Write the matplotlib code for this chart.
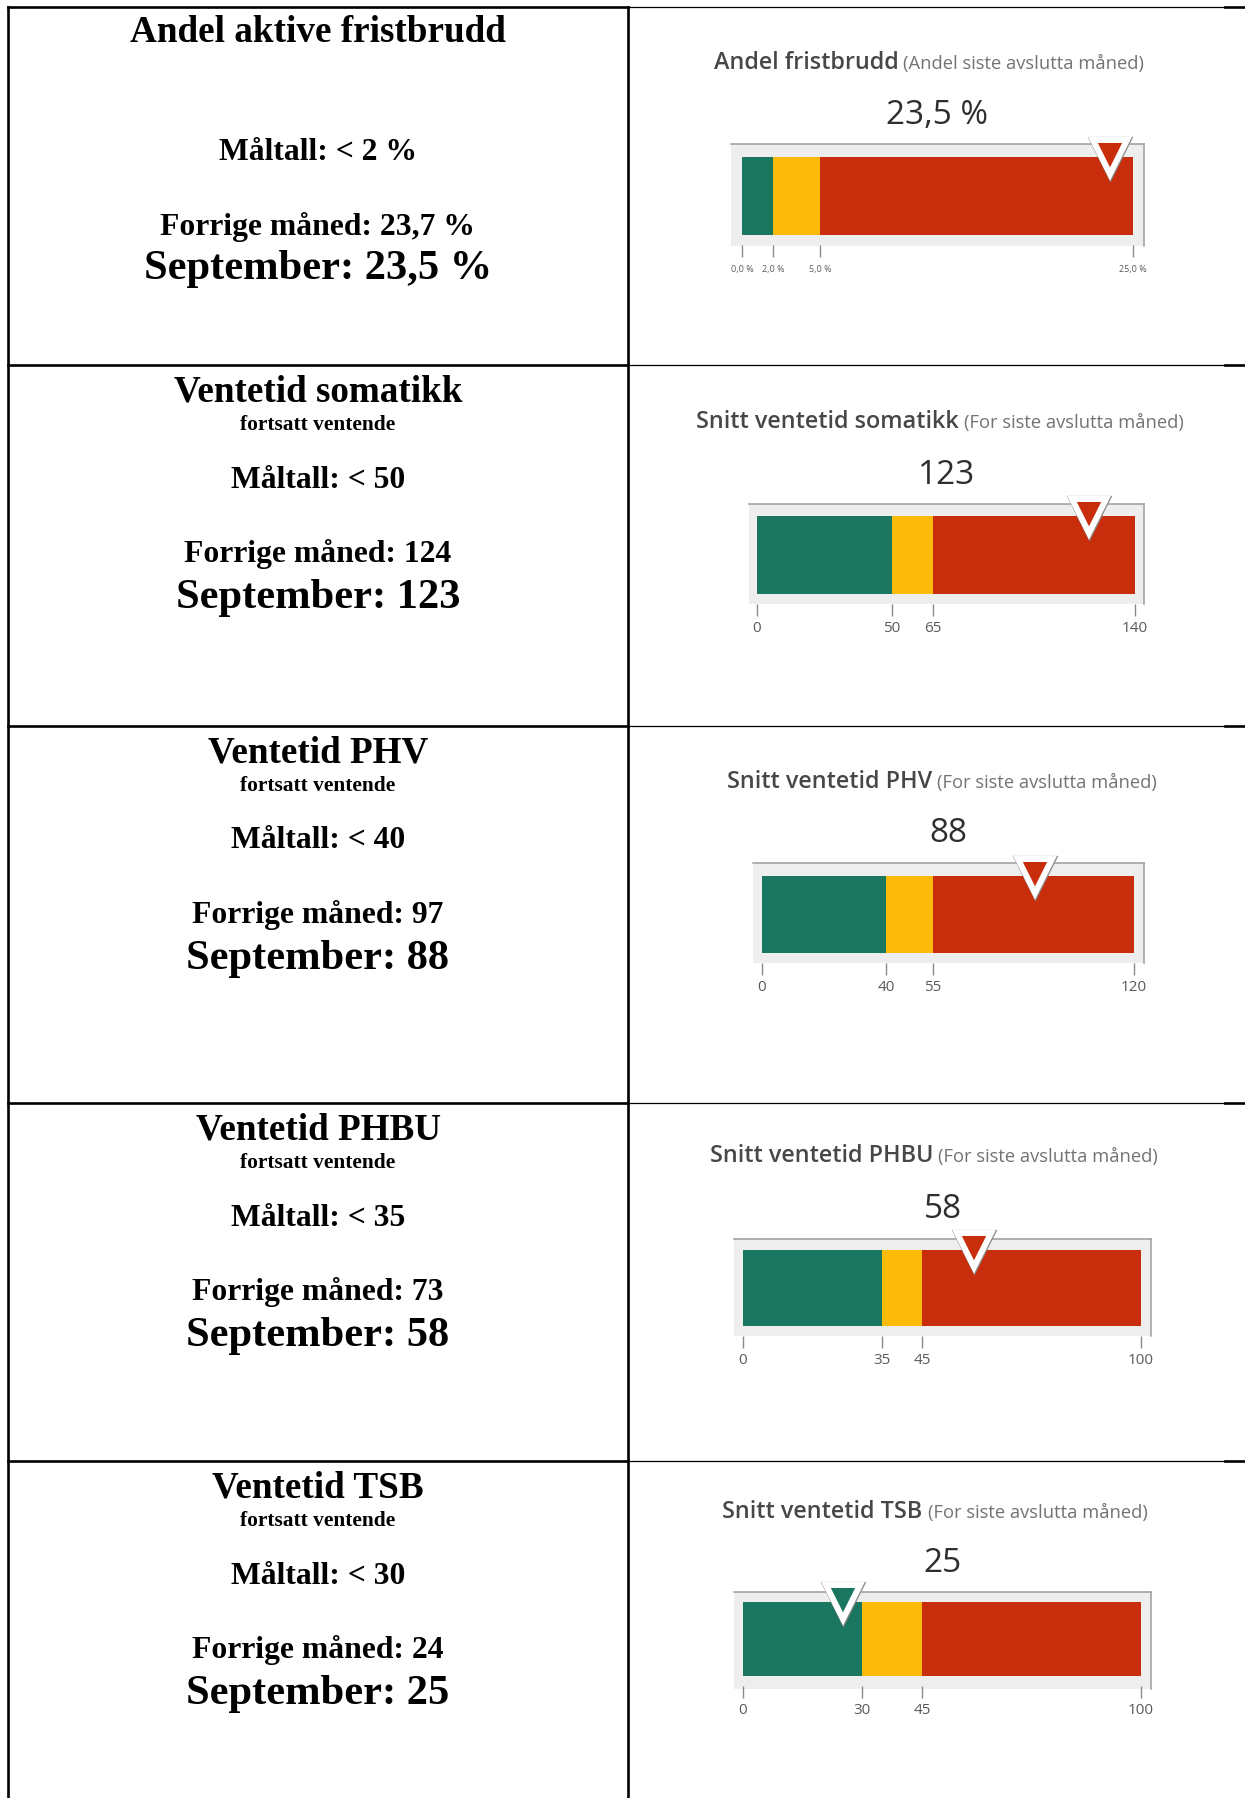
import matplotlib
matplotlib.use("Agg")
import matplotlib.pyplot as plt
from matplotlib.patches import Rectangle

# ---- data ----
left_titles = ["Andel aktive fristbrudd", "Ventetid somatikk", "Ventetid PHV",
               "Ventetid PHBU", "Ventetid TSB"]
left_subtitles = ["", "fortsatt ventende", "fortsatt ventende",
                  "fortsatt ventende", "fortsatt ventende"]
maltall = ["< 2 %", "< 50", "< 40", "< 35", "< 30"]
forrige = ["23,7 %", "124", "97", "73", "24"]
september = ["23,5 %", "123", "88", "58", "25"]

gauge_titles = ["Andel fristbrudd", "Snitt ventetid somatikk", "Snitt ventetid PHV",
                "Snitt ventetid PHBU", "Snitt ventetid TSB"]
gauge_notes = ["(Andel siste avslutta måned)", "(For siste avslutta måned)",
               "(For siste avslutta måned)", "(For siste avslutta måned)",
               "(For siste avslutta måned)"]
gauge_values = [23.5, 123, 88, 58, 25]
value_labels = ["23,5 %", "123", "88", "58", "25"]
green_limits = [2, 50, 40, 35, 30]
yellow_limits = [5, 65, 55, 45, 45]
gauge_max = [25, 140, 120, 100, 100]
tick_labels = [["0,0 %", "2,0 %", "5,0 %", "25,0 %"],
               ["0", "50", "65", "140"],
               ["0", "40", "55", "120"],
               ["0", "35", "45", "100"],
               ["0", "30", "45", "100"]]

GREEN, YELLOW, RED = "#1b7660", "#fdbb09", "#c82d0c"

# ---- layout (pixels) ----
W, H = 1245, 1798
row_tops = [7, 365, 726, 1103, 1461]
x_left, x_mid = 8, 628
left_cx = (x_left + x_mid) / 2

bars = [(742, 1133, 157, 235), (757, 1135, 516, 594), (762, 1134, 876, 953),
        (743, 1141, 1250, 1326), (743, 1141, 1602, 1676)]
frames = [(731, 1144, 144, 246), (749, 1144, 504, 604), (753, 1144, 863, 963),
          (734, 1151, 1239, 1336), (734, 1151, 1592, 1689)]
title_y = [63, 422, 782, 1156, 1512]
title_cx = [929, 940, 942, 934, 935]
value_y = [115, 475, 834, 1209, 1563]

SERIF = "Liberation Serif"
SANS = "Open Sans"

fig = plt.figure(figsize=(W / 100, H / 100), dpi=100)
ax = fig.add_axes([0, 0, 1, 1])
ax.set_xlim(0, W)
ax.set_ylim(H, 0)
ax.axis("off")
renderer = fig.canvas.get_renderer()

# table lines
lw_thick = 1.9
ax.plot([x_left, x_left], [row_tops[0], H], color="black", lw=lw_thick)
ax.plot([x_mid, x_mid], [row_tops[0], H], color="black", lw=lw_thick)
for y in row_tops:
    ax.plot([x_left, x_mid], [y, y], color="black", lw=lw_thick)
    ax.plot([x_mid, 1225], [y, y], color="black", lw=0.9)
    ax.plot([1225, W], [y, y], color="black", lw=lw_thick)

# left column texts
for i in range(5):
    top = row_tops[i] + 3
    if i == 0:
        offs = (23, None, 142, 217, 259)
    else:
        offs = (24, 57, 112, 186, 230)
    kw = dict(ha="center", va="center", family=SERIF, weight="bold", color="black")
    ax.text(left_cx, top + offs[0], left_titles[i], fontsize=26.7, **kw)
    if left_subtitles[i]:
        ax.text(left_cx, top + offs[1], left_subtitles[i], fontsize=15.4, **kw)
    ax.text(left_cx, top + offs[2], "Måltall: " + maltall[i], fontsize=22.8, **kw)
    ax.text(left_cx, top + offs[3], "Forrige måned: " + forrige[i], fontsize=22.8, **kw)
    ax.text(left_cx, top + offs[4], "September: " + september[i], fontsize=30.6, **kw)

# gauges
for i in range(5):
    bx0, bx1, by0, by1 = bars[i]
    fx0, fx1, fy0, fy1 = frames[i]

    # frame behind the bar
    ax.add_patch(Rectangle((fx0, fy0), fx1 - fx0, fy1 - fy0, facecolor="#eeeeee",
                           edgecolor="none", zorder=1))
    ax.plot([fx0, fx1], [fy0, fy0], color="#9c9c9c", lw=1.1, zorder=2)
    ax.plot([fx1, fx1], [fy0, fy1], color="#9c9c9c", lw=1.1, zorder=2)

    # title: bold part + note
    t1 = ax.text(0, title_y[i], gauge_titles[i], fontsize=16.8, family=SANS,
                 weight="semibold", color="#474747", va="center", ha="left")
    t2 = ax.text(0, title_y[i], gauge_notes[i], fontsize=13.2, family=SANS,
                 color="#737373", va="center", ha="left")
    w1 = t1.get_window_extent(renderer).width
    w2 = t2.get_window_extent(renderer).width
    gap = 5
    start = title_cx[i] - (w1 + gap + w2) / 2
    t1.set_x(start)
    t2.set_x(start + w1 + gap)
    t2.set_y(title_y[i] + 1)

    ax.text((fx0 + fx1) / 2, value_y[i], value_labels[i], fontsize=24, family=SANS,
            weight="medium", color="#2e2e2e", ha="center", va="center")

    # gauge axes: bar plus gap down to the ticks
    tick_gap = 10
    bh = by1 - by0
    gax = fig.add_axes([bx0 / W, 1 - (by1 + tick_gap) / H, (bx1 - bx0) / W,
                        (bh + tick_gap) / H])
    gax.set_xlim(0, gauge_max[i])
    gax.set_ylim(bh + tick_gap, 0)
    gax.patch.set_visible(False)
    for s in gax.spines.values():
        s.set_visible(False)
    gax.set_yticks([])

    starts = [0, green_limits[i], yellow_limits[i]]
    ends = [green_limits[i], yellow_limits[i], gauge_max[i]]
    cols = [GREEN, YELLOW, RED]
    for s0, s1, c in zip(starts, ends, cols):
        gax.barh(bh / 2, s1 - s0, left=s0, height=bh, color=c, edgecolor="none")

    ticks = [0, green_limits[i], yellow_limits[i], gauge_max[i]]
    gax.set_xticks(ticks)
    gax.set_xticklabels(tick_labels[i])
    small = i == 0
    gax.tick_params(axis="x", direction="out", length=8.6, width=1.0, color="#8a8a8a",
                    pad=5.5 if small else 3.5, labelsize=6.5 if small else 11,
                    labelcolor="#5a5a5a")
    for lab in gax.get_xticklabels():
        lab.set_family(SANS)

    v = gauge_values[i]
    mc = GREEN if v <= green_limits[i] else (YELLOW if v <= yellow_limits[i] else RED)
    gax.plot([v], [0], marker="v", markersize=24, markerfacecolor="white",
             markeredgecolor="#8a8a8a", markeredgewidth=5.2, clip_on=False, zorder=5)
    gax.plot([v], [0], marker="v", markersize=24, markerfacecolor=mc,
             markeredgecolor="white", markeredgewidth=4.3, clip_on=False, zorder=6)

fig.savefig("out.png", dpi=100)
